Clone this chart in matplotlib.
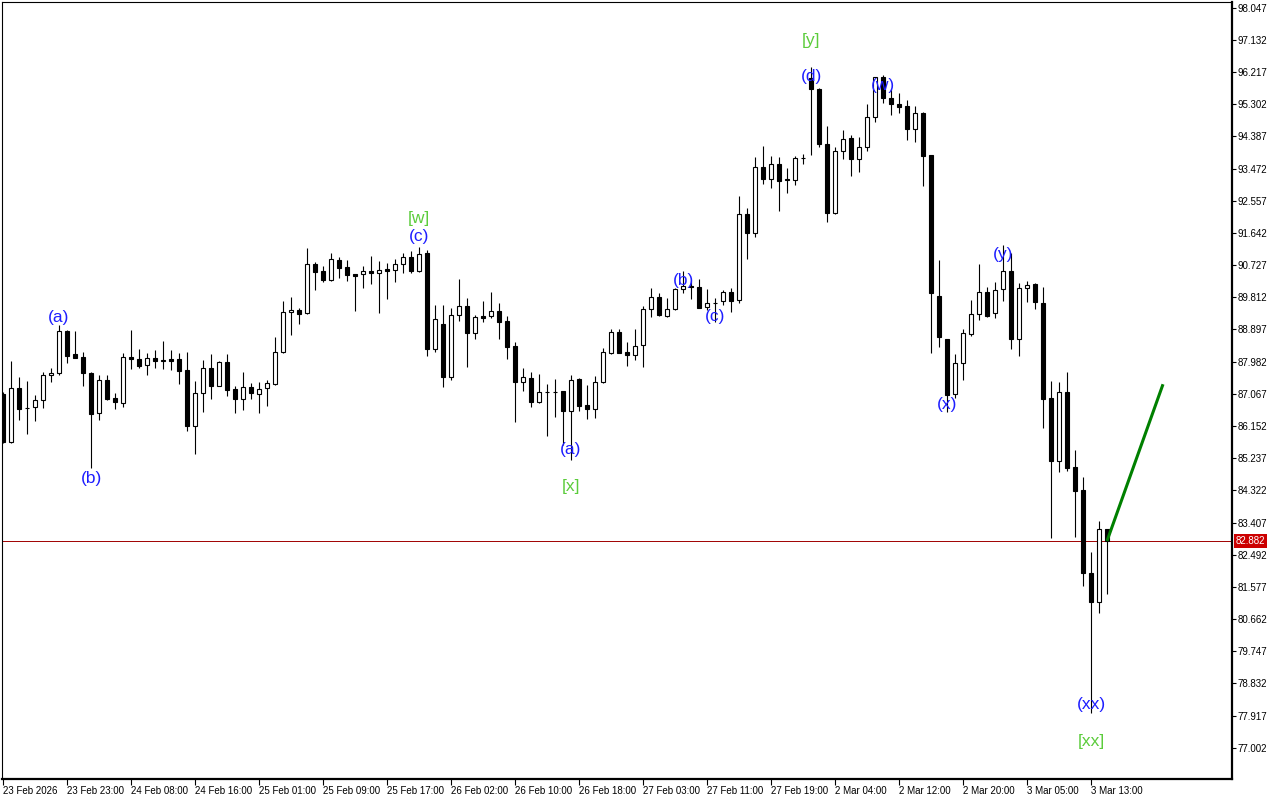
import matplotlib
matplotlib.use("Agg")
import matplotlib.pyplot as plt
import matplotlib.transforms as mtransforms
import numpy as np

# ---------------- data ----------------
opens = [87.06, 85.71, 87.22, 86.66, 86.70, 86.88, 87.59, 87.65, 88.86, 88.20,
         88.11, 87.67, 86.52, 87.46, 86.95, 86.80, 88.11, 88.06, 87.88, 88.08,
         88.01, 88.05, 88.06, 87.74, 86.15, 87.08, 87.80, 87.30, 87.96, 87.20,
         86.93, 87.25, 87.05, 87.22, 87.35, 88.25, 89.39, 89.44, 89.36, 90.75,
         90.55, 90.30, 90.87, 90.67, 90.47, 90.47, 90.55, 90.51, 90.61, 90.58,
         90.75, 90.95, 90.57, 91.06, 88.33, 89.05, 87.54, 89.30, 89.56, 88.79,
         89.27, 89.27, 89.41, 89.14, 88.43, 87.41, 87.52, 86.84, 87.11, 87.12,
         87.15, 86.59, 87.49, 86.75, 86.64, 87.41, 88.22, 88.82, 88.26, 88.17,
         88.46, 89.47, 89.81, 89.28, 89.47, 90.04, 90.13, 90.11, 89.53, 89.64,
         89.70, 89.95, 89.74, 92.17, 91.63, 93.51, 93.17, 93.60, 93.18, 93.14,
         93.77, 96.04, 95.73, 94.16, 92.22, 93.97, 94.33, 93.74, 94.08, 94.93,
         96.07, 95.47, 95.31, 95.25, 94.59, 95.06, 93.86, 89.85, 88.62, 87.05,
         87.94, 88.77, 89.33, 89.95, 89.36, 90.04, 90.56, 88.64, 90.07, 90.19,
         89.66, 86.94, 85.17, 87.11, 84.98, 84.33, 81.98, 81.16, 83.21]
highs = [87.12, 88.00, 87.55, 87.43, 87.03, 87.69, 87.80, 89.02, 88.87, 88.85,
         88.26, 87.68, 87.59, 87.60, 87.10, 88.24, 88.88, 88.34, 88.24, 88.31,
         88.57, 88.31, 88.22, 88.27, 87.43, 88.03, 88.21, 88.00, 88.20, 87.30,
         87.68, 87.37, 87.40, 87.45, 88.68, 89.71, 89.81, 89.51, 91.21, 90.81,
         90.70, 91.06, 90.95, 90.87, 90.48, 90.70, 90.99, 90.84, 90.78, 90.89,
         91.06, 91.14, 91.25, 91.16, 89.59, 89.59, 89.50, 90.33, 89.78, 89.31,
         89.71, 89.95, 89.64, 89.28, 88.53, 87.79, 87.68, 87.63, 87.35, 87.49,
         87.16, 87.60, 87.52, 87.32, 87.57, 88.36, 88.90, 88.90, 88.55, 88.90,
         89.57, 90.07, 89.93, 89.78, 90.09, 90.56, 90.28, 90.33, 90.04, 89.78,
         90.02, 90.07, 92.69, 92.34, 93.79, 94.12, 93.83, 93.79, 93.48, 93.83,
         93.88, 96.37, 95.77, 94.68, 94.08, 94.57, 94.43, 94.38, 95.31, 96.09,
         96.13, 95.73, 95.61, 95.42, 95.25, 95.09, 93.87, 90.87, 88.63, 88.20,
         88.90, 89.74, 90.76, 90.10, 90.24, 91.30, 91.06, 90.21, 90.28, 90.23,
         90.11, 87.43, 87.40, 87.68, 85.47, 84.69, 82.56, 83.45, 83.22]
lows = [85.67, 85.66, 86.32, 85.92, 86.30, 86.67, 87.41, 87.60, 87.94, 88.08,
        87.29, 84.96, 86.32, 86.89, 86.64, 86.70, 87.77, 87.79, 87.60, 87.79,
        87.77, 87.74, 87.34, 86.01, 85.36, 86.56, 86.93, 87.29, 87.01, 86.53,
        86.61, 86.93, 86.53, 86.73, 87.32, 88.24, 88.75, 89.06, 89.35, 90.02,
        90.26, 90.28, 90.37, 90.28, 89.43, 90.09, 90.20, 89.36, 89.77, 90.24,
        90.50, 90.51, 90.54, 88.15, 88.27, 87.25, 87.46, 89.14, 87.84, 88.62,
        89.10, 89.21, 88.64, 88.06, 86.27, 87.15, 86.70, 86.81, 85.88, 86.42,
        85.61, 85.19, 86.59, 86.34, 86.37, 87.37, 88.20, 88.22, 87.86, 88.03,
        87.84, 89.26, 89.29, 89.26, 89.45, 89.93, 89.76, 89.50, 89.45, 89.11,
        89.59, 89.40, 89.66, 90.90, 91.54, 93.03, 92.93, 92.28, 92.79, 93.01,
        93.60, 93.86, 94.08, 91.96, 92.17, 93.74, 93.27, 93.39, 93.98, 94.81,
        95.33, 95.00, 95.06, 94.29, 94.24, 92.99, 88.24, 88.41, 86.55, 86.94,
        87.46, 88.71, 89.17, 89.24, 89.23, 89.72, 88.34, 88.15, 89.69, 89.48,
        86.10, 82.96, 84.84, 84.87, 82.99, 81.61, 77.98, 80.83, 81.37]
closes = [85.70, 87.22, 86.64, 86.67, 86.89, 87.59, 87.65, 88.86, 88.15, 88.09,
          87.65, 86.49, 87.46, 86.92, 86.83, 88.11, 88.07, 87.87, 88.08, 88.01,
          88.02, 88.01, 87.73, 86.15, 87.10, 87.79, 87.30, 87.96, 87.18, 86.93,
          87.25, 87.10, 87.21, 87.37, 88.25, 89.39, 89.45, 89.35, 90.75, 90.54,
          90.30, 90.89, 90.65, 90.46, 90.43, 90.55, 90.51, 90.58, 90.57, 90.75,
          90.95, 90.57, 91.03, 88.33, 89.19, 87.54, 89.30, 89.56, 88.79, 89.24,
          89.23, 89.41, 89.12, 88.41, 87.41, 87.54, 86.84, 87.11, 87.12, 87.11,
          86.59, 87.46, 86.72, 86.64, 87.40, 88.25, 88.82, 88.24, 88.16, 88.44,
          89.47, 89.81, 89.31, 89.47, 90.04, 90.13, 90.11, 89.52, 89.64, 89.66,
          89.95, 89.72, 92.17, 91.63, 93.51, 93.17, 93.60, 93.13, 93.14, 93.77,
          93.78, 95.73, 94.16, 92.20, 93.97, 94.31, 93.74, 94.08, 94.93, 96.07,
          95.47, 95.30, 95.22, 94.59, 95.05, 93.84, 89.94, 88.67, 87.03, 87.94,
          88.79, 89.33, 89.95, 89.28, 90.02, 90.56, 88.62, 90.07, 90.15, 89.67,
          86.91, 85.17, 87.11, 84.97, 84.31, 81.98, 81.16, 83.21, 82.882]

current_price = 82.882

x_tick_labels = ['23 Feb 2026', '23 Feb 23:00', '24 Feb 08:00', '24 Feb 16:00',
                 '25 Feb 01:00', '25 Feb 09:00', '25 Feb 17:00', '26 Feb 02:00',
                 '26 Feb 10:00', '26 Feb 18:00', '27 Feb 03:00', '27 Feb 11:00',
                 '27 Feb 19:00', '2 Mar 04:00', '2 Mar 12:00', '2 Mar 20:00',
                 '3 Mar 05:00', '3 Mar 13:00']
bars_per_label = 8

y_ticks = [98.047, 97.132, 96.217, 95.302, 94.387, 93.472, 92.557, 91.642,
           90.727, 89.812, 88.897, 87.982, 87.067, 86.152, 85.237, 84.322,
           83.407, 82.492, 81.577, 80.662, 79.747, 78.832, 77.917, 77.002]

# wave labels: (text, bar index, price, kind)
wave_texts = ['(a)', '(b)', '[w]', '(c)', '(a)', '[x]', '(b)', '(c)', '[y]',
              '(d)', '(w)', '(x)', '(y)', '(xx)', '[xx]']
wave_bars = [7, 11, 52, 52, 71, 71, 85, 89, 101, 101, 110, 118, 125, 136, 136]
wave_prices = [89.25, 84.67, 92.04, 91.53, 85.47, 84.42, 90.30, 89.28, 97.13,
               96.10, 95.85, 86.75, 91.04, 78.22, 77.17]
wave_kinds = ['minor', 'minor', 'major', 'minor', 'minor', 'major', 'minor',
              'minor', 'major', 'minor', 'minor', 'minor', 'minor', 'minor', 'major']

# projection line (bar index, price)
proj_bars = [138, 145]
proj_prices = [82.882, 87.34]

# ---------------- figure ----------------
fig = plt.figure(figsize=(12.8, 8.0), dpi=100)
ax = fig.add_axes([2 / 1280, 21 / 800, 1230 / 1280, 777 / 800])
ax.set_facecolor('white')

n = len(opens)
idx = np.arange(n)
o = np.array(opens); h = np.array(highs); l = np.array(lows); c = np.array(closes)

# wicks
ax.vlines(idx, l, h, color='black', linewidth=0.8, zorder=2)

up = c >= o
body_bottom = np.minimum(o, c)
body_height = np.maximum(np.abs(c - o), 0.005)
ax.bar(idx[up], body_height[up], bottom=body_bottom[up], width=0.56,
       facecolor='white', edgecolor='black', linewidth=0.8, zorder=3)
ax.bar(idx[~up], body_height[~up], bottom=body_bottom[~up], width=0.56,
       facecolor='black', edgecolor='black', linewidth=0.8, zorder=3)

# current price line
ax.axhline(current_price, color='#a00000', linewidth=0.7, zorder=1)

# projection
ax.plot(proj_bars, proj_prices, color='#008000', linewidth=2.2, zorder=4,
        solid_capstyle='butt')

# wave labels
for t, b, p, k in zip(wave_texts, wave_bars, wave_prices, wave_kinds):
    col = '#5ccc3c' if k == 'major' else '#1e1eff'
    ax.text(b, p, t, color=col, fontsize=12.5, family='Liberation Sans',
            ha='center', va='center', zorder=5)

# limits
ax.set_xlim(-0.125, 153.625)
ax.set_ylim(76.113, 98.211)

# axes styling
for s in ['top', 'left']:
    ax.spines[s].set_linewidth(0.8)
for s in ['right', 'bottom']:
    ax.spines[s].set_linewidth(1.6)

ax.yaxis.tick_right()
ax.set_yticks(y_ticks)
ax.set_yticklabels([f'{v:.3f}' for v in y_ticks], fontsize=7,
                   family='Liberation Sans')
ax.tick_params(axis='y', direction='out', length=3, width=0.8, pad=1)

ax.set_xticks(np.arange(len(x_tick_labels)) * bars_per_label)
ax.set_xticklabels(x_tick_labels, fontsize=7, family='Liberation Sans', ha='left')
ax.tick_params(axis='x', direction='out', length=4, width=0.8, pad=1)

# current price tag
trans = mtransforms.blended_transform_factory(ax.transAxes, ax.transData)
ax.text(1.003, current_price, f'{current_price:.3f}', transform=trans,
        fontsize=7, family='Liberation Sans', color='white', ha='left',
        va='center', zorder=10,
        bbox=dict(facecolor='#cc0000', edgecolor='none', pad=1.2))

fig.savefig('out.png', dpi=100, facecolor='white')
